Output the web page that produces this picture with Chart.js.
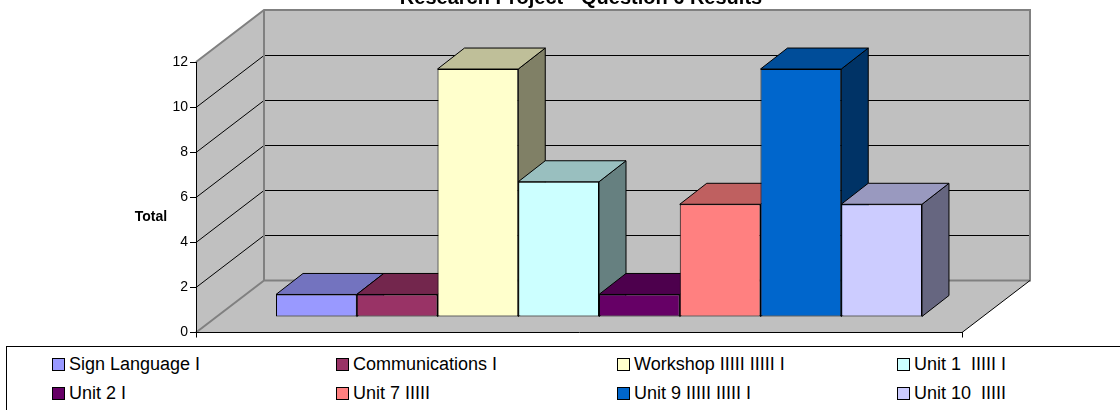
<!DOCTYPE html>
<html><head><meta charset="utf-8">
<script src="https://cdn.jsdelivr.net/npm/chart.js@4/dist/chart.umd.min.js"></script>
<style>
html,body{margin:0;padding:0;background:#fff;overflow:hidden;}
#wrap{position:relative;width:1120px;height:410px;overflow:hidden;}
#c{position:absolute;left:0;top:0;}
#legend{position:absolute;left:6px;top:346px;width:1140px;height:90px;border:1px solid #000;box-sizing:border-box;font-family:Arial,"Liberation Sans",sans-serif;font-size:18px;color:#000;}
.li{position:absolute;display:flex;align-items:center;white-space:pre;height:22px;line-height:22px;}
.sw{width:11px;height:11px;border:1px solid #000;margin-right:4px;flex:none;}
</style></head><body>
<div id="wrap"><canvas id="c" width="1120" height="346" style="width:1120px;height:346px"></canvas><div id="legend"></div></div>
<script>
const chartTitle = 'Research Project - Question 6 Results';
const axisTitle = 'Total';
const categories = ['Sign Language I','Communications I','Workshop IIIII IIIII I','Unit 1  IIIII I','Unit 2 I','Unit 7 IIIII','Unit 9 IIIII IIIII I','Unit 10  IIIII'];
const values = [1, 1, 11, 6, 1, 5, 11, 5];
const colors = ['#9999FF','#993366','#FFFFCC','#CCFFFF','#660066','#FF8080','#0066CC','#CCCCFF'];
const yTicks = [0, 2, 4, 6, 8, 10, 12];

const WALL = {dx: 68, dy: -52};
const FRONT = {dx: 20, dy: -15.5};
const DEPTH = {dx: 27, dy: -21};

function shade(hex, f) {
  const n = parseInt(hex.slice(1), 16);
  const r = Math.round(((n >> 16) & 255) * f), g = Math.round(((n >> 8) & 255) * f), b = Math.round((n & 255) * f);
  return 'rgb(' + r + ',' + g + ',' + b + ')';
}
function poly(ctx, pts, fill, stroke, lw) {
  ctx.beginPath();
  ctx.moveTo(pts[0][0], pts[0][1]);
  for (let i = 1; i < pts.length; i++) ctx.lineTo(pts[i][0], pts[i][1]);
  ctx.closePath();
  if (fill) { ctx.fillStyle = fill; ctx.fill(); }
  if (stroke) { ctx.strokeStyle = stroke; ctx.lineWidth = lw || 1; ctx.stroke(); }
}

const threeD = {
  id: 'threeD',
  beforeDraw(chart) {
    const {ctx, chartArea: a, scales: {y}} = chart;
    const L = a.left, R = a.right;
    const B = y.getPixelForValue(yTicks[0]), T = y.getPixelForValue(yTicks[yTicks.length - 1]);
    const dx = WALL.dx, dy = WALL.dy;
    ctx.save();
    poly(ctx, [[L + dx, T + dy], [R + dx, T + dy], [R + dx, B + dy], [L + dx, B + dy]], '#C0C0C0');
    poly(ctx, [[L, T], [L + dx, T + dy], [L + dx, B + dy], [L, B]], '#C0C0C0');
    poly(ctx, [[L, B], [L + dx, B + dy], [R + dx, B + dy], [R, B]], '#C0C0C0');
    ctx.strokeStyle = '#000'; ctx.lineWidth = 1;
    ctx.beginPath();
    yTicks.slice(1, -1).forEach(v => {
      const py = Math.round(y.getPixelForValue(v)) + 0.5;
      ctx.moveTo(L, py); ctx.lineTo(L + dx, py + dy); ctx.lineTo(R + dx, py + dy);
    });
    ctx.stroke();
    ctx.strokeStyle = '#808080'; ctx.lineWidth = 2;
    ctx.beginPath();
    ctx.moveTo(L, T); ctx.lineTo(L + dx, T + dy); ctx.lineTo(R + dx, T + dy); ctx.lineTo(R + dx, B + dy);
    ctx.lineTo(L + dx, B + dy); ctx.lineTo(L + dx, T + dy);
    ctx.moveTo(L + dx, B + dy); ctx.lineTo(L, B);
    ctx.stroke();
    ctx.strokeStyle = '#000'; ctx.lineWidth = 1;
    ctx.beginPath(); ctx.moveTo(R, B); ctx.lineTo(R + dx, B + dy); ctx.stroke();
    ctx.restore();
  },
  beforeDatasetsDraw(chart) {
    const ctx = chart.ctx;
    ctx.save();
    ctx.lineJoin = 'miter';
    chart.data.datasets.forEach((ds, i) => {
      const el = chart.getDatasetMeta(i).data[0];
      if (!el) return;
      const p = el.getProps(['x', 'y', 'base', 'width'], true);
      const l = p.x - p.width / 2 + FRONT.dx, r = p.x + p.width / 2 + FRONT.dx;
      const t = Math.min(p.y, p.base) + FRONT.dy, b = Math.max(p.y, p.base) + FRONT.dy;
      const c = colors[i];
      poly(ctx, [[r, t], [r + DEPTH.dx, t + DEPTH.dy], [r + DEPTH.dx, b + DEPTH.dy], [r, b]], shade(c, 0.5), '#000', 1);
      poly(ctx, [[l, t], [l + DEPTH.dx, t + DEPTH.dy], [r + DEPTH.dx, t + DEPTH.dy], [r, t]], shade(c, 0.75), '#000', 1);
    });
    ctx.restore();
  },
  beforeDatasetDraw(chart) {
    chart.ctx.save();
    chart.ctx.translate(FRONT.dx, FRONT.dy);
  },
  afterDatasetDraw(chart) {
    chart.ctx.restore();
  },
  afterDraw(chart) {
    const ctx = chart.ctx;
    ctx.save();
    ctx.fillStyle = '#000';
    ctx.font = 'bold 20px Arial, "Liberation Sans", sans-serif';
    ctx.textAlign = 'center';
    ctx.textBaseline = 'alphabetic';
    ctx.fillText(chartTitle, 581, 4);
    ctx.font = 'bold 14px Arial, "Liberation Sans", sans-serif';
    ctx.textAlign = 'center';
    ctx.textBaseline = 'middle';
    ctx.fillText(axisTitle, 151, chart.scales.y.getPixelForValue(5.1));
    ctx.restore();
  }
};

const datasets = categories.map((name, i) => ({
  label: name,
  data: [values[i]],
  backgroundColor: colors[i],
  borderColor: '#000',
  borderWidth: 1,
  borderSkipped: false,
  categoryPercentage: 0.8433,
  barPercentage: 1
}));

new Chart(document.getElementById('c'), {
  type: 'bar',
  data: {labels: [''], datasets},
  options: {
    responsive: false,
    animation: false,
    devicePixelRatio: 1,
    layout: {padding: {left: 0, right: 158, top: 62, bottom: 0}},
    plugins: {legend: {display: false}, title: {display: false}, tooltip: {enabled: false}},
    scales: {
      x: {
        display: true,
        grid: {display: true, drawOnChartArea: false, drawTicks: true, tickLength: 5, color: '#000', offset: true},
        border: {display: true, color: '#000', width: 1},
        ticks: {display: false},
        afterFit(s) { s.height = 13.5; }
      },
      y: {
        min: 0, max: 12,
        afterBuildTicks(s) { s.ticks = yTicks.map(v => ({value: v})); },
        grid: {display: true, drawOnChartArea: false, drawTicks: true, tickLength: 6, color: '#000'},
        border: {display: true, color: '#000', width: 1},
        ticks: {color: '#000', padding: 2, font: {family: 'Arial, "Liberation Sans", sans-serif', size: 14}},
        afterFit(s) { s.width = 196; }
      }
    }
  },
  plugins: [threeD]
});

const leg = document.getElementById('legend');
const colX = [52, 336, 617, 897];
const rowY = [364, 393];
categories.forEach((name, i) => {
  const d = document.createElement('div');
  d.className = 'li';
  d.style.left = (colX[i % 4] - 7) + 'px';
  d.style.top = (rowY[Math.floor(i / 4)] - 347 - 11) + 'px';
  const sw = document.createElement('span');
  sw.className = 'sw';
  sw.style.background = colors[i];
  const tx = document.createElement('span');
  tx.textContent = name;
  d.appendChild(sw); d.appendChild(tx);
  leg.appendChild(d);
});
</script>
</body></html>
